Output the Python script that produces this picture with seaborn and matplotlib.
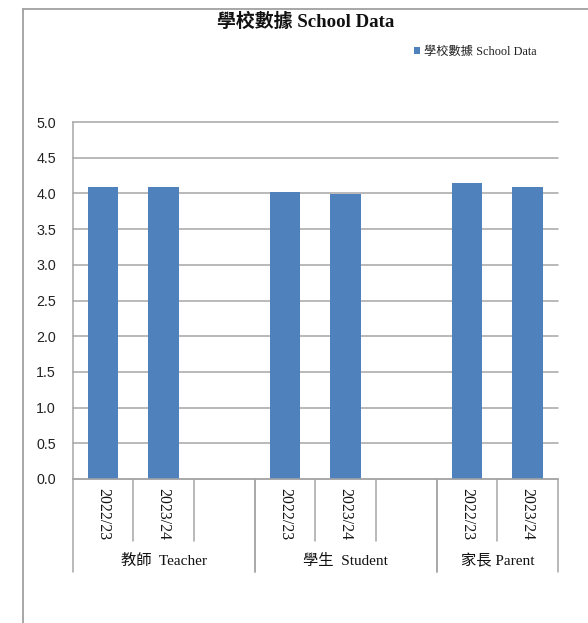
import matplotlib
matplotlib.use("Agg")
import matplotlib.pyplot as plt
from matplotlib.lines import Line2D
import matplotlib.transforms as mtransforms
import seaborn as sns
import pandas as pd

# Survey results (mean score) by respondent group and school year
groups = ["教師  Teacher", "學生  Student", "家長 Parent"]
years = ["2022/23", "2023/24"]
teacher_scores = [4.09, 4.09]
student_scores = [4.02, 3.99]
parent_scores = [4.14, 4.09]
yticks = [0.0, 0.5, 1.0, 1.5, 2.0, 2.5, 3.0, 3.5, 4.0, 4.5, 5.0]
series_name = "學校數據 School Data"
title = "學校數據 School Data"

# Category slots: each group has its years followed by a spacer slot (except the last group)
slot_years = [years + [""], years + [""], years]
score_lists = [teacher_scores, student_scores, parent_scores]

rows = []
order = []
for g_idx, (g, ys) in enumerate(zip(groups, slot_years)):
    for y_idx, yr in enumerate(ys):
        key = f"{g_idx}|{y_idx}"
        order.append(key)
        if yr:
            rows.append({"slot": key, "score": score_lists[g_idx][y_idx]})
df = pd.DataFrame(rows)

sns.set_theme(style="white")
serif = ["Liberation Serif", "Noto Sans CJK TC"]
sans = ["Liberation Sans", "Noto Sans CJK TC"]
plt.rcParams["font.family"] = sans

W, H = 588, 623
fig = plt.figure(figsize=(W / 100, H / 100), dpi=100)
fig.patch.set_facecolor("white")

x0, x1, ytop, ybot = 72.5, 558, 122, 479
ax = fig.add_axes([x0 / W, 1 - ybot / H, (x1 - x0) / W, (ybot - ytop) / H])

bar_color = "#4F81BD"
grid_color = "#A6A6A6"
sns.barplot(data=df, x="slot", y="score", order=order, color=bar_color,
            width=0.5, saturation=1, errorbar=None, label=series_name, ax=ax,
            edgecolor="none")

ax.set_xlim(-0.5, len(order) - 0.5)
ax.set_ylim(0, 5)
ax.set_yticks(yticks)
ax.set_yticklabels([f"{v:.1f}" for v in yticks], fontsize=10.3, color="#222222",
                   family=sans)
ax.set_xticklabels([""] * len(order))
ax.set_xlabel("")
ax.set_ylabel("")
ax.tick_params(axis="y", length=0, pad=12)
ax.tick_params(axis="x", direction="in", length=3, width=1, color=grid_color)
ax.yaxis.grid(True, color=grid_color, linewidth=1.1)
for gl in ax.get_ygridlines():
    gl.set_clip_on(False)
ax.set_axisbelow(True)
for side in ["top", "right"]:
    ax.spines[side].set_visible(False)
for side in ["left", "bottom"]:
    ax.spines[side].set_color(grid_color)
    ax.spines[side].set_linewidth(1.1)

# Multi-level category axis below the plot
trans = mtransforms.blended_transform_factory(ax.transData, ax.transAxes)
span = ybot - ytop
inner_bottom = -(541 - ybot) / span
outer_bottom = -(572 - ybot) / span
year_y = -(514 - ybot) / span
group_y = -(561 - ybot) / span

pos = 0
for g_idx, (g, ys) in enumerate(zip(groups, slot_years)):
    start = pos - 0.5
    for y_idx, yr in enumerate(ys):
        if yr:
            ax.text(pos, year_y, yr, rotation=270, ha="center", va="center",
                    fontsize=11.3, family=serif, color="#111111",
                    transform=trans, clip_on=False)
        if y_idx > 0:
            ax.add_line(Line2D([pos - 0.5, pos - 0.5], [0, inner_bottom],
                               color=grid_color, lw=1.1, transform=trans,
                               clip_on=False))
        pos += 1
    end = pos - 0.5
    ax.text((start + end) / 2, group_y, g, ha="center", va="center",
            fontsize=11, family=serif, color="#111111",
            transform=trans, clip_on=False)
    for xe in (start, end):
        ax.add_line(Line2D([xe, xe], [0, outer_bottom], color=grid_color,
                           lw=1.1, transform=trans, clip_on=False))

# Title and legend
fig.text(305.5 / W, 1 - 22 / H, title, ha="center", va="center", fontsize=13.6,
         fontweight="bold", family=serif, color="#111111")
leg = ax.legend(loc="center left", bbox_to_anchor=(414 / W, 1 - 52 / H),
                bbox_transform=fig.transFigure, frameon=False,
                handlelength=0.5, handleheight=0.5, handletextpad=0.3,
                borderpad=0, borderaxespad=0,
                prop={"family": serif, "size": 8.8})
for t in leg.get_texts():
    t.set_color("#222222")

# Chart area border (top and left edges)
bx, by = 23 / W, 1 - 8.5 / H
fig.add_artist(Line2D([bx, bx], [0, by], color="#A0A0A0", lw=1.3,
                      transform=fig.transFigure))
fig.add_artist(Line2D([bx, 1], [by, by], color="#A0A0A0", lw=1.3,
                      transform=fig.transFigure))

fig.savefig("out.png", dpi=100, facecolor="white")
